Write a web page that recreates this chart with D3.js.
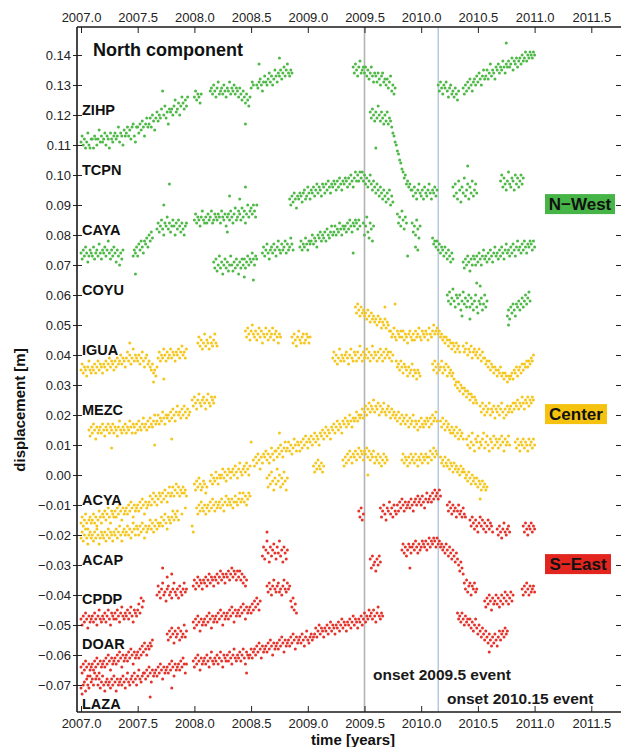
<!DOCTYPE html>
<html><head><meta charset="utf-8">
<script src="https://cdn.jsdelivr.net/npm/d3@7"></script>
<style>
body{margin:0;background:#fff}
svg{display:block}
text{font-family:"Liberation Sans",Arial,Helvetica,sans-serif}
</style>
</head><body>
<svg id="c" width="621" height="747"></svg>
<script>
// ---------------- DATA ----------------
const STEP = 0.01; // sampling interval of each series (years)
const xTicks = [2007.0,2007.5,2008.0,2008.5,2009.0,2009.5,2010.0,2010.5,2011.0,2011.5];
const yTicks = [0.14,0.13,0.12,0.11,0.10,0.09,0.08,0.07,0.06,0.05,0.04,0.03,0.02,0.01,0.00,-0.01,-0.02,-0.03,-0.04,-0.05,-0.06,-0.07];
const events = [{t:2009.5,label:"onset 2009.5 event"},{t:2010.15,label:"onset 2010.15 event"}];
const stationLabels = [["ZIHP",0.12],["TCPN",0.10],["CAYA",0.08],["COYU",0.06],["IGUA",0.04],["MEZC",0.02],["ACYA",-0.01],["ACAP",-0.03],["CPDP",-0.043],["DOAR",-0.058],["LAZA",-0.078]];
const regions = ["N\u2212West","Center","S\u2212East"];

// each series: [start year, displacement values in mm, one every STEP]
const ZIHP = [
[2007.00,"111 113 110 112 109 111 114 110 109 112 112 109 113 112 110 112 115 111 113 111 112 114 110 113 112 109 114 112 111 113 114 112 113 116 111 114 113 110 115 113 114 116 113 115 112 116 117 113 111 116 116 114 117 115 118 116 113 117 119 116 117 119 116 120 118 115 119 121 118 120 119 122 128 120 123 119 121 117 122 121 122 120 123 125 121 122 124 120 123 126 124 122 125 123 126"],
[2008.00,"126 128 125 127 126 124 127"],
[2008.14,"128 129 127 130 128 126 129 131 127 128 129 127 130 128 126 129 128 131 127 129 128 130 127 129 128 126 129 127 125 128 126 124 127 125 123 126 129 131 130"],
[2008.45,"117"],
[2008.55,"130 129 131 132 130 128 131 133 131 130 132 134 131 133 130 132 135 133 131 134 133 135 132 134 136 133 135 137 134 133 135 134"],
[2008.57,"137"],[2008.75,"139"],
[2009.40,"136 134 137 135 133 136 138 134 135 136 134 136 133 135 132 134 136 133 131 134 133 131 134 132 130 133 134 131 132 130 132 129 131 133 128 130 127 129"],
[2010.15,"130 128 131 129 127 130 129 131 128 126 129 130 127 128 126 129 127 125 128"],
[2010.37,"129 127 130 128 131 129 132 130 128 131 132 130 133 131 134 132 130 133 135 132 133 135 132 134 137 133 135 134 132 136 135 137 134 136 135 138 136 134 137 136 138 136 137 139 135 138 137 139 136 138 139 137 140 138 139 141 138 140 139 141 140 139 141 140"],
[2010.75,"144"]
];
const TCPN = [
[2009.55,"121 119 122 120 118 121 119 123 120 118 121 119 117 120 118 121 117 119 118"],
[2009.74,"116 114 113 111 110 108 107 105 104 102 101 99 100 97 98 96 97 95"],
[2009.92,"95 93 96 94 92 95 97 94 93 95 92 96 94 93 95 97 94 92 95 94 96 93 95"],
[2009.60,"109"]
];
const CAYA = [
[2007.00,"74 72 75 73 76 74 71 73 75 74 73 76 72 74 75 73 77 74 72 75 74 76 73 75 78 74 72 75 73 76 74 71 75 73 70 74 72 75"],
[2007.46,"73 75 74 76 73 77 75 78 76 74 78 77 79 76 80 78 81 79"],
[2007.48,"67"],
[2007.67,"82 84 81 83 85 82 80 84 83 86 82 84 81 83 85 83 80 84 82 85 83 81 84 82 80 83 84"],
[2007.73,"90"],[2007.78,"97"],
[2008.00,"85 87 84 86 85 83 86 88 85 84 86 84 87 85 86 88 84 85 87 86 85 87 86 84 88 86 85 87 83 86 87 85 88 86 84 87 89 85 86 88 87 85 89 86 88 84 87 90 86 88 89 87 90 88 86 90"],
[2008.31,"93"],[2008.29,"81"],[2008.40,"92"],[2008.45,"96"],
[2008.84,"92 90 93 91 94 92 89 93 92 94 93 91 94 95 92 93 96 94 92 95 94 96 93 95 97 94 96 95 93 97 96 94 97 95 98 96 94 97 96 98 97 95 98 96 99 97 95 98 97 99 98 96 99 97 100 98 96 99 101 98 100 98 101"],
[2009.47,"99 101 98 100 97 99 96 98 100 97 95 98 96 94 97 95 93 96 94 92 95 93 91 94 92 95 90 93 91"],
[2010.28,"96 93 97 94 92 98 95 91 96 94 99 93 95 97 92 96 94 98 93 95 97 94"],
[2010.41,"103"],
[2010.70,"98 100 96 99 97 95 98 101 97 96 99 98 95 100 97 99 96 98 100 97 99"]
];
const CAYA_B = [
[2008.17,"71 69 72 68 70 73 69 71 67 70 72 69 71 68 70 73 70 68 71 69 72 70 67 71 69 72"],
[2008.43,"70 72 69 71 73 70 72 71 74 72 70 73 72"],
[2008.44,"66"],[2008.52,"65"],
[2008.60,"74 76 73 75 77 74 72 75 76 74 77 75 73 76 78 75 74 77 75 76 78 74 77 75 76 79 77 75"],
[2008.93,"76 78 75 77 76 79 77 75 78 77 78 80 77 79 78 76 80 79 81 78 80 79 81 78 82 80 79 81 83 80 81 83 80 82 81 84 82 80 83 82 83 81 84 82 85 83 81 84 83 85 84 82 85 83"],
[2009.40,"74"],
[2009.49,"84 80 83 86 81 79 84 82 78 83"],
[2009.79,"87 84 86 83 88 85 82 86 84"],
[2009.88,"73"],
[2009.92,"84 81 83 80 85 82 79 83"],
[2009.95,"76"],[2009.97,"75"],
[2010.10,"79 77 78 76 78 75 77 74 76 75 73 76 74 72 75 73 71 74 72"],
[2010.37,"71 69 72 70 73 71 68 72 70 73 72 70 73 71 74 72 70 73 75 72 73 71 74 72 75 73 71 74 76 73 74 72 75 73 76 74 72 75 77 74 75 73 76 74 77 75 73 76 78 75 76 74 77 75 78 76 74 77 76 78 77 75 78 76"],
[2010.49,"64"],[2010.52,"63"]
];
const COYU = [
[2010.23,"60 58 61 57 59 62 58 56 60 59 57 60 55 58 61 57 59 56 58 60 56 59 57 55 58 60 56 54 58 57 59 55 57 60 56 58"],
[2010.36,"53"],[2010.43,"52"],
[2010.76,"53 55 52 56 54 57 55 53 57 56 58 55 57 59 56 58 60 57 59 61 58"],
[2010.77,"50"]
];
const IGUA = [
[2007.00,"35 37 34 36 35 33 36 38 35 34 36 35 37 34 36 38 35 37 36 34 37 36 38 35 37 39 36 38 37 35 38 36 39 37 38 40 37 39 38 36 39 41 38 40 37 39 42 38 40 39 38 40 37 39 41 38 36 39 40 37 38 36 35 37 34 35 33 36"],
[2007.68,"39 41 38 40 39 42 40 38 41 39 40 42 39 41 40 38 41 40 42 39 41 43 40 41 39 42"],
[2007.43,"44"],[2007.64,"31"],[2007.73,"32"],
[2008.03,"44 46 43 45 42 44 47 43 45 44 42 46 44 43 45 47 44 43"],
[2008.45,"48 46 49 47 45 48 50 47 46 48 45 47 49 46 48 44 47 46 49 47 45 48 46 47 49 45 47 48 46 44 47 46"],
[2008.86,"46 44 47 45 43 46 48 45 44 46 47 44 45 47 46 44 46"],
[2009.22,"39 41 38 40 37 39 42 38 40 39 38 40 41 39 37 40 42 39 38 41 40 38 41 39 43 40 38 41 39 40 42 39 41 38 40 43 39 41 40 38 41 39 42 40 38 41 39 42 40 41 39 41 38 40"],
[2009.78,"38 36 37 35 38 36 34 37 36 35 33 36 34 35 37 33 35 34 32 35 34 33"],
[2010.10,"37 35 38 36 34 37 35 36 38 34 36 35 37 33 36 34 35 33 34"],
[2010.29,"32 30 31 29 31 28 30 29 27 29 28 26 28 27 25 27 26 24 26 25 24"],
[2010.52,"23 21 24 22 20 23 21 22 24 20 22 21 23 19 22 21 23 20 22 24 21 19 22 20 23 21 22"],
[2010.79,"23 21 24 22 24 23 25 22 24 23 26 24 22 25 24 26 23 25 24 26 25"]
];
const IGUA_B = [
[2009.42,"56 54 57 55 53 56 54 55 53"],
[2009.51,"54 52 55 53 51 54 52 53 51 52 50 53 51 52 49 51 50 52 49 51 50 48"],
[2009.73,"48 46 47 49 46 45 48 47 46 48 46 48 45 47 46 44 47 48 46 45 47 45 48 46 47 49 46 45 48 47 46 48 47 45 49 47 46 48 50 47 48 49 47 48 46"],
[2010.18,"47 45 46 44 46 45 43 45 44 42 44 43 41 44 42 43 41"],
[2010.37,"43 41 42 44 40 42 41 43 39 41 42 40 41 39 42 40 38 41 39"],
[2010.56,"39 37 38 36 38 35 37 36 34 36 35 33 35 34 36 33 34 32 34 33 31 33 32"],
[2010.79,"33 34 32 35 34 36 33 35 36 34 37 35 37 36 38 36 38 37 39 38 40"],
[2009.68,"56"],[2009.77,"57"]
];
const MEZC = [
[2007.07,"15 13 16 14 17 15 12 16 14 15 16 14 17 15 13 16 15 17 14 16 15 17 14 16 15 13 16 18 15 14 16 15 17 14 16 15 18 16 14 17 16 14 17 15 18 16 15 17 19 16 17 15 18 16 19 17 16 18 20 17 18 20 17 19 18 21 19 17 20 19 20 18 21 19 22 20 18 21 23 20 21 19 22 20 23 21 19 22 20 21"],
[2007.27,"9"],[2007.65,"10"],[2007.80,"12"],
[2007.98,"25 23 26 24 22 25 27 24 23 25 26 24 22 25 27 24 23 26 25 24 26"]
];
const ACYA = [
[2007.00,"-16 -14 -17 -15 -13 -16 -18 -15 -14 -16 -15 -13 -16 -14 -17 -15 -12 -14 -16 -13 -14 -12 -15 -13 -11 -14 -16 -12 -13 -14 -12 -14 -11 -13 -10 -12 -15 -11 -13 -12 -11 -13 -10 -12 -9 -11 -14 -10 -12 -11 -10 -12 -9 -11 -8 -10 -13 -9 -11 -10 -9 -7 -10 -8 -6 -9 -7 -10 -8 -6 -7 -9 -6 -8 -5 -7 -9 -6 -4 -7 -6 -4 -7 -5 -3 -6 -4 -7 -5 -6 -4 -6 -5 -7"],
[2008.00,"-3 -5 -2 -4 -1 -3 -5 -4 -2 -3 -6 -4"],
[2008.14,"-2 0 -3 -1 -2 1 -1 -3 0 -1 0 2 -1 1 -2 0 2 1 -1 1 2 0 3 1 -1 2 4 1 0 2 3 1 4 2 0 3"],
[2008.52,"5 3 6 4 7 5 2 6 4 7 6 8 5 7 4 6 9 7 5 8 8 6 9 7 10 8 6 9 11 8 9 11 8 10 7 9 12 10 8 11 10 8 11 9 12 10 13 11 9 12 11 13 10 12 14 11 13 12 10 14 13 15 12 14 16 13 15 14 12 16 15 17 14 16 18 15 17 16 14 18 17 19 16 18 17 20 18 16 19 18 19 21 18 20 19"],
[2008.50,"11"],[2008.75,"14"],
[2009.47,"20 22 19 21 23 20 22 24 21 23 22 25 21 23 22 24 20 23 21 22 24 21 20 22 23 21 19 22 20"],
[2009.76,"21 19 20 18 21 19 17 20 18 19 17 20 18 16 19 17 18 20 16 18 17 15 18 16 19 17 16 18 17 19 18 16 19 17 20 18 19 21 18"],
[2010.17,"18 16 19 17 15 18 16 17 15 14 16 14 15 13 16 14 12 15 13 14 12"],
[2010.40,"12 10 13 9 11 14 10 8 12 11 13 9 11 10 12 14 9 11 13 10 8 12 11 9 13 10 12 11 9 12 10 13 11 8 12 10 11 13 10"],
[2010.83,"11 9 12 10 8 11 10 12 9 11 10 8 12 10 11 9 12 10"]
];
const ACYA_B = [
[2007.00,"-21 -19 -22 -20 -18 -21 -23 -20 -19 -21 -20 -22 -19 -21 -18 -20 -23 -21 -19 -20 -21 -19 -22 -20 -18 -21 -19 -20 -22 -19 -20 -18 -21 -19 -17 -20 -22 -19 -18 -20 -19 -17 -20 -18 -21 -19 -16 -18 -20 -17 -18 -20 -17 -19 -16 -18 -21 -17 -19 -18 -17 -15 -18 -16 -19 -17 -15 -18 -16 -17 -16 -14 -17 -15 -13 -16 -18 -14 -15 -16 -14 -12 -15 -13 -14 -12 -15"],
[2007.89,"-13"],[2007.92,"-11"],[2007.98,"-17"],[2007.99,"-19"],
[2008.02,"-11 -13 -10 -12 -9 -11 -12 -10 -13 -11 -10 -12 -9 -11 -8 -10 -12 -9 -11 -10 -9 -11 -8 -10 -12 -9 -7 -10 -8 -9 -10 -8 -11 -9 -7 -9 -10 -8 -6 -9 -8 -6 -9 -7 -10 -8 -6 -7"],
[2008.64,"-1 -4 0 -3 1 -2 -5 -1 -3 2 -2 0 -4 -1 -3 1 -2 -5 -1"],
[2009.05,"3 1 4 2 5 3 2 4 1 3"],
[2009.31,"5 3 6 4 7 5 8 6 4 7 6 8 5 7 9 6 8 7 5 8 7 9 6 8 5 7 6 8 4 6 5 7 4 6 3 5 7 4 6 5"],
[2009.53,"0"],
[2009.83,"5 7 4 6 5 3 6 4 7 5 6 4 7 5 3 6 5 7 4 6 5 7 6 4 6 8 5 7 9 6 8 7"],
[2010.17,"6 4 5 3 6 4 3 5 2 4 3 1 4 2 3 1 2 0 3 1 2"],
[2010.38,"1 -1 0 -2 1 -1 -3 0 -2 -1 -3 -1 -4 -2 -3 -5 -2 -4 -3 -5 -4"],
[2010.52,"-8"]
];
const CPDP = [
[2007.00,"-48 -50 -47 -49 -46 -48 -51 -47 -49 -48 -47 -49 -46 -48 -50 -47 -45 -48 -49 -47 -48 -46 -49 -47 -45 -48 -50 -46 -47 -48 -46 -48 -45 -47 -49 -46 -44 -47 -48 -46 -47 -45 -48 -46 -44 -47 -49 -45 -46 -47 -45 -43 -46 -41 -44 -42"],
[2007.67,"-40 -37 -39 -41 -38 -36 -40 -39 -42 -38 -37 -40 -39 -41 -38 -36 -39 -40 -38 -41 -37 -39 -40 -38 -36 -39 -38"],
[2007.72,"-31"],[2007.76,"-34"],[2007.80,"-33"],
[2007.99,"-37 -35 -38 -36 -34 -37 -35 -36 -38 -35 -36 -34 -37 -35 -33 -36 -34 -35 -37 -34 -35 -33 -36 -34 -32 -35 -33 -34 -36 -33 -34 -32 -35 -33 -31 -34 -32 -33 -35 -32 -34 -32 -35 -33 -36 -34 -37 -35"],
[2008.60,"-27 -24 -28 -25 -22 -26 -29 -24 -27 -25 -23 -26 -28 -24 -26 -22 -27 -25 -29 -24 -26 -28 -25"],
[2008.64,"-19"]
];
const ACAP = [
[2009.45,"-12 -14 -11 -15 -13"],
[2009.64,"-11 -14 -12 -10 -13 -15 -11 -12 -9 -13 -11 -14 -10 -12 -13"],
[2009.79,"-10 -12 -9 -11 -8 -10 -12 -9 -11 -10 -9 -11 -8 -10 -12 -9 -8 -10 -7 -9 -8 -10 -7 -9 -11 -8 -6 -9 -8 -7 -9 -6 -8 -5 -7 -6 -8 -5 -7"],
[2010.23,"-10 -12 -9 -11 -13 -10 -12 -11 -14 -12 -10 -13 -12 -14 -11 -13 -14"],
[2010.43,"-15 -17 -14 -16 -18 -15 -17 -19 -16 -14 -17 -15 -18 -16 -19 -17 -15 -18 -16 -17 -19"],
[2010.67,"-18 -20 -17 -19 -21 -18 -16 -19 -20 -18 -17 -19"],
[2010.90,"-17 -19 -16 -18 -20 -17 -18 -16 -19 -17 -18"]
];
const ACAP_B = [
[2009.55,"-28 -31 -27 -30 -29 -32 -28 -30 -27 -29"],
[2009.83,"-25 -23 -26 -24 -27 -25 -23 -24 -26 -24 -23 -25 -22 -24 -26 -23 -25 -24 -22 -23 -24 -22 -25 -23 -21 -24 -22 -23 -21 -22 -24 -21 -23 -22 -24"],
[2009.90,"-31"],
[2010.18,"-23 -25 -24 -26 -23 -25 -27 -24 -26 -28 -25 -27 -29 -26 -28"],
[2010.33,"-30 -32 -29 -31 -33"],
[2010.38,"-36 -38 -35 -39 -37 -36 -40 -37 -38 -36 -39 -38"],
[2010.56,"-42 -44 -41 -43 -40 -42 -45 -41 -43 -42 -40 -43 -41 -44 -42 -40 -43 -41 -39 -42 -40 -43 -41 -39 -42 -40"],
[2010.89,"-38 -40 -37 -39 -36 -38 -40 -37 -39 -38 -37 -39"]
];
const DOAR = [
[2007.00,"-64 -66 -63 -65 -62 -64 -67 -63 -65 -64 -63 -65 -62 -64 -61 -63 -66 -62 -64 -63 -62 -64 -61 -63 -60 -62 -65 -61 -63 -62 -61 -63 -60 -62 -59 -61 -64 -60 -62 -61 -60 -62 -59 -61 -58 -60 -63 -59 -61 -60 -59 -61 -58 -60 -57 -59 -56 -58 -60 -57 -58 -56 -57 -55"],
[2007.76,"-53 -55 -52 -54 -51 -53 -56 -52 -54 -53 -51 -55 -52 -54 -53 -50 -54 -52"],
[2007.99,"-49 -51 -48 -50 -47 -49 -52 -48 -50 -49 -48 -50 -47 -49 -46 -48 -51 -47 -49 -48 -47 -49 -46 -48 -45 -47 -50 -46 -48 -47 -46 -48 -45 -47 -44 -46 -49 -45 -47 -46 -45 -47 -44 -46 -43 -45 -48 -44 -46 -45 -44 -46 -43 -45 -42 -44 -41 -43 -45 -42"],
[2008.64,"-37 -39 -36 -38 -40 -37 -35 -38 -39 -37 -36 -39 -38 -40 -37 -35 -38 -39 -36 -38 -37"],
[2008.85,"-42 -44 -41 -45 -43 -46"]
];
const LAZA = [
[2007.00,"-71 -73 -70 -69 -72 -68 -70 -71 -67 -69 -68 -70 -66 -68 -67"],
[2007.15,"-70 -68 -71 -69 -67 -70 -72 -69 -68 -70 -69 -71 -68 -70 -67 -69 -72 -68 -70 -69 -68 -70 -67 -69 -71 -68 -66 -69 -70 -68 -67 -69 -66 -68 -70 -67 -65 -68 -69 -67 -66"],
[2007.56,"-66 -68 -65 -67 -64 -66 -69 -65 -67 -66 -65 -67 -64 -66 -63 -65 -68 -64 -66 -65 -64 -66 -63 -65 -62 -64 -67 -63 -65 -64 -63 -65 -62 -64 -61 -63 -66 -63"],
[2007.61,"-74"],[2007.80,"-71"],
[2007.99,"-62 -64 -61 -63 -60 -62 -65 -61 -63 -62 -61 -63 -60 -62 -64 -61 -59 -62 -63 -61 -62 -60 -63 -61 -59 -62 -64 -60 -61 -62 -60 -62 -59 -61 -63 -60 -58 -61 -62 -60 -61 -59 -62 -60 -58 -61 -63 -59 -60 -61 -60 -58 -61 -59"],
[2008.46,"-66"],
[2008.53,"-58 -60 -57 -59 -56 -58 -61 -57 -59 -58 -57 -59 -56 -58 -55 -57 -60 -56 -58 -57 -56 -58 -55 -57 -54 -56 -59 -55 -57 -56 -55 -57 -54 -56 -53 -55 -58 -54 -56 -55 -54 -56 -53 -55 -57 -54 -52 -55 -56 -54 -53 -55 -54"],
[2009.06,"-53 -51 -54 -52 -50 -53 -51 -52 -54 -51 -52 -50 -53 -51 -49 -52 -50 -51 -53 -50 -51 -49 -52 -50 -48 -51 -49 -50 -52 -49 -50 -48 -51 -49 -47 -50 -48 -49 -51 -48 -49 -47 -50 -48 -46 -49 -47 -48 -45 -47 -46 -48 -45 -47 -49 -46 -44 -47 -48 -46 -47"]
];
const LAZA_B = [
[2010.32,"-46 -48 -47 -49 -46 -48 -50 -47 -49 -48 -50 -48 -51 -49 -52 -50 -48 -51 -53 -50 -52 -54 -51 -53 -55 -52 -54 -56 -53 -55 -57 -54 -56 -53 -55 -57 -54 -52 -55 -53 -52 -54 -51 -53 -52"],
[2010.60,"-59"]
];

// ---------------- STYLE ----------------
const COLORS = {green:"#4fb947", yellow:"#f5c71d", red:"#e5322a"};
const BOX = {green:"#46b446", yellow:"#f4c20f", red:"#e2261f"};
const groups = [
  {key:"green",  series:[ZIHP,TCPN,CAYA,CAYA_B,COYU]},
  {key:"yellow", series:[IGUA,IGUA_B,MEZC,ACYA,ACYA_B]},
  {key:"red",    series:[CPDP,ACAP,ACAP_B,DOAR,LAZA,LAZA_B]}
];

const svg = d3.select("#c");
const L=77, R=622, T=27, B=712;
const x = d3.scaleLinear().domain([2006.9647, 2011.7707]).range([L, R]);
const y = d3.scaleLinear().domain([-0.079, 0.14933]).range([B, T]);

function expand(segs){
  const pts=[];
  segs.forEach(([t0,s])=>{
    s.trim().split(/\s+/).forEach((v,i)=>pts.push([t0+i*STEP, (+v)/1000]));
  });
  return pts;
}

// event lines
svg.append("g").selectAll("line").data(events).join("line")
  .attr("x1",d=>x(d.t)).attr("x2",d=>x(d.t)).attr("y1",T).attr("y2",B)
  .attr("stroke",(d,i)=>i===0?"#b3b3b3":"#a6bdd4").attr("stroke-width",(d,i)=>i===0?1.6:1.2);

// dots
groups.forEach(g=>{
  const pts = g.series.flatMap(expand);
  svg.append("g").selectAll("circle").data(pts).join("circle")
    .attr("cx",d=>x(d[0])).attr("cy",d=>y(d[1])).attr("r",1.5)
    .attr("fill",COLORS[g.key]);
});

// axes
function styleAxis(sel){
  sel.select(".domain").remove();
  sel.selectAll(".tick line").attr("stroke","#222").attr("stroke-width",1);
  sel.selectAll("text").attr("font-size",13).attr("fill","#222").attr("font-family",'"Liberation Sans",Arial,sans-serif');
}
const fx = d3.format(".1f"), fy = d3.format(".2f");
svg.append("g").attr("transform",`translate(0,${T})`)
  .call(d3.axisTop(x).tickValues(xTicks).tickFormat(fx).tickSizeInner(-6).tickSizeOuter(0).tickPadding(5)).call(styleAxis);
svg.append("g").attr("transform",`translate(0,${B})`)
  .call(d3.axisBottom(x).tickValues(xTicks).tickFormat(fx).tickSizeInner(-6).tickSizeOuter(0).tickPadding(7)).call(styleAxis);
svg.append("g").attr("transform",`translate(${L},0)`)
  .call(d3.axisLeft(y).tickValues(yTicks).tickFormat(fy).tickSizeInner(4).tickSizeOuter(0).tickPadding(2)).call(styleAxis);
svg.append("g").attr("transform",`translate(${L},0)`)
  .call(d3.axisRight(y).tickValues(yTicks).tickFormat(()=>"").tickSizeInner(5).tickSizeOuter(0)).call(styleAxis);
svg.append("g").attr("transform",`translate(${R},0)`)
  .call(d3.axisLeft(y).tickValues(yTicks).tickFormat(()=>"").tickSizeInner(6).tickSizeOuter(0)).call(styleAxis);

// frame
const frame = svg.append("g").attr("stroke","#1a1a1a").attr("stroke-width",1.6);
frame.append("line").attr("x1",L).attr("x2",L).attr("y1",T).attr("y2",B);
frame.append("line").attr("x1",L).attr("x2",R).attr("y1",T).attr("y2",T);
frame.append("line").attr("x1",L).attr("x2",R).attr("y1",B).attr("y2",B);

// titles
svg.append("text").attr("x",93).attr("y",55.5).attr("font-size",18).attr("font-weight","bold").attr("fill","#111").text("North component");
svg.append("g").selectAll("text").data(stationLabels).join("text")
  .attr("x",82).attr("y",d=>y(d[1])).attr("font-size",14.5).attr("font-weight","bold").attr("fill","#111").text(d=>d[0]);

// region legend boxes
const regionY = [0.0903, 0.0203, -0.0297];
const boxW = [70, 62, 66];
regions.forEach((r,i)=>{
  const key = groups[i].key;
  const cy = y(regionY[i]);
  const gx = 545;
  svg.append("rect").attr("x",gx).attr("y",cy-10).attr("width",boxW[i]).attr("height",20).attr("fill",BOX[key]);
  svg.append("text").attr("x",gx+boxW[i]/2).attr("y",cy+6).attr("text-anchor","middle")
    .attr("font-size",17).attr("font-weight","bold").attr("fill","#111").text(r);
});

// event labels
svg.append("text").attr("x",373).attr("y",680).attr("font-size",15.5).attr("font-weight","bold").attr("fill","#1a1a1a").text(events[0].label);
svg.append("text").attr("x",447).attr("y",704).attr("font-size",15.5).attr("font-weight","bold").attr("fill","#1a1a1a").text(events[1].label);

// axis titles
svg.append("text").attr("transform","translate(25,410) rotate(-90)").attr("text-anchor","middle")
  .attr("font-size",15).attr("font-weight","bold").attr("fill","#111").text("displacement [m]");
svg.append("text").attr("x",353).attr("y",745).attr("text-anchor","middle")
  .attr("font-size",15).attr("font-weight","bold").attr("fill","#111").text("time [years]");
</script>
</body></html>
